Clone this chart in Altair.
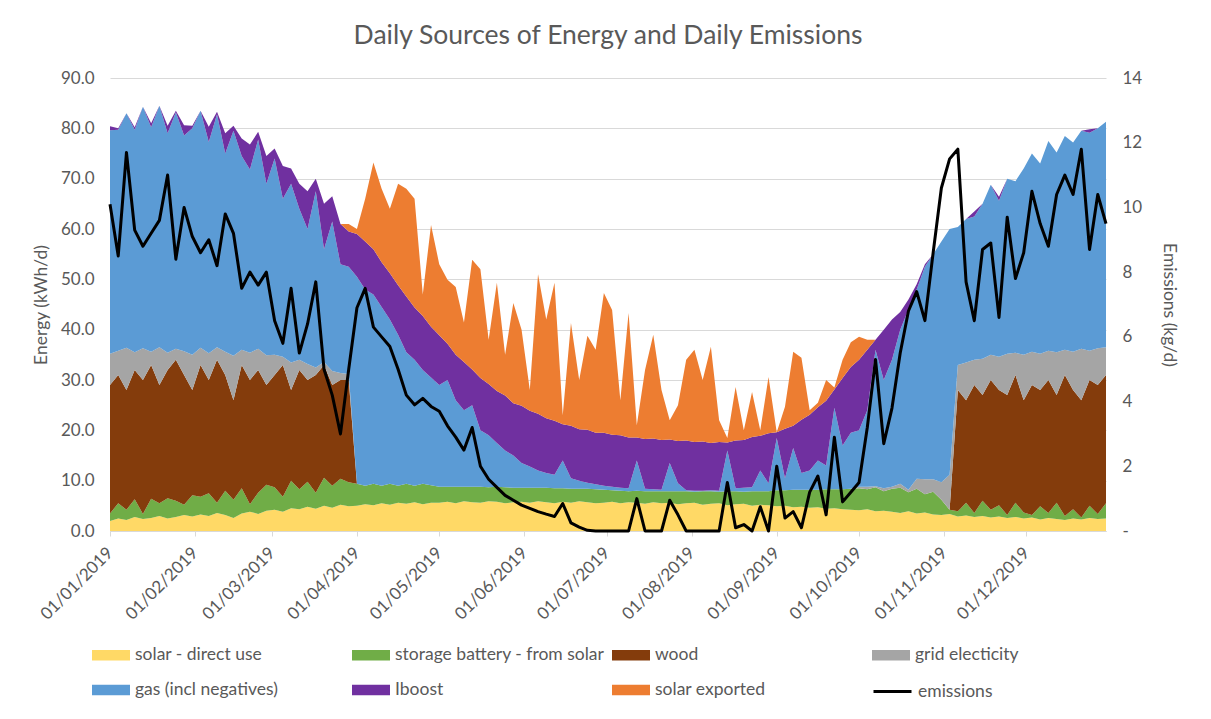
import pandas as pd
import altair as alt

# one reading every third day, 1 Jan .. 30 Dec 2019
dates = pd.date_range("2019-01-01", periods=122, freq="3D")

solar_direct = [
    2.0, 2.5, 2.2, 2.8, 2.4, 2.6, 3.0, 2.5, 2.8, 3.2, 2.9,
    3.3, 3.0, 3.6, 3.2, 2.6, 3.5, 3.8, 3.4, 4.0,
    4.2, 3.8, 4.5, 4.3, 4.8, 4.4, 5.0, 4.6, 5.2, 4.9,
    5.0, 5.3, 5.1, 5.5, 5.2, 5.6, 5.4, 5.7, 5.3, 5.6,
    5.6, 5.8, 5.5, 5.9, 5.7, 5.6, 5.9, 5.8, 5.5, 5.7,
    5.8, 5.6, 5.9, 5.7, 5.5, 5.8, 5.6, 5.9, 5.7, 5.5,
    5.6, 5.8, 5.5, 5.7, 5.6, 5.4, 5.7, 5.5, 5.6, 5.3,
    5.5, 5.6, 5.2, 5.4, 5.5, 5.1, 5.3, 5.4, 5.0, 5.2, 5.1,
    4.9, 5.0, 4.7, 4.8, 4.6, 4.7, 4.4, 4.5, 4.3, 4.2,
    4.1, 4.3, 3.9, 4.0, 3.8, 3.6, 3.9, 3.5, 3.7, 3.3,
    3.2, 3.4, 2.9, 3.1, 2.8, 3.0, 2.7, 2.9, 2.6, 2.8,
    2.5, 2.7, 2.3, 2.6, 2.4, 2.2, 2.5, 2.3, 2.6, 2.4, 2.5,
]

battery = [
    1.5, 3.0, 2.0, 3.5, 1.0, 3.8, 2.5, 4.0, 3.2, 2.0, 4.2,
    3.5, 4.5, 2.0, 4.8, 3.6, 5.0, 1.5, 4.2, 5.2,
    4.5, 3.0, 5.5, 4.0, 5.0, 3.2, 5.6, 4.4, 5.2, 4.8,
    4.4, 3.7, 4.3, 3.5, 4.2, 3.4, 4.0, 3.3, 4.1, 3.5,
    3.2, 3.0, 3.3, 2.9, 3.1, 3.2, 2.8, 3.0, 3.2, 2.9,
    2.8, 3.0, 2.7, 2.9, 3.0, 2.7, 2.8, 2.5, 2.7, 2.8, 2.6,
    2.3, 2.5, 2.2, 2.4, 2.5, 2.2, 2.4, 2.3, 2.6, 2.4,
    2.2, 2.7, 2.5, 2.3, 2.8, 2.6, 2.4, 2.9, 2.7, 2.8,
    3.2, 3.1, 3.5, 3.4, 3.6, 3.5, 3.9, 3.8, 4.0, 4.2,
    4.4, 4.0, 4.8, 3.9, 4.6, 5.0, 3.8, 4.9, 3.6, 4.5,
    3.0, 0.8, 1.0, 2.5, 0.8, 3.0, 1.5, 2.2, 0.6, 2.8,
    1.2, 0.5, 2.6, 1.0, 3.2, 0.8, 1.8, 0.4, 2.4, 1.0, 3.0,
]

wood = [
    25.5, 25.5, 23.8, 25.7, 26.6, 26.6, 23.5, 25.5, 28.0, 25.8, 20.9,
    26.2, 22.5, 28.4, 23.0, 19.8, 24.5, 24.7, 24.4, 19.8,
    22.3, 26.2, 18.0, 23.7, 20.2, 23.4, 22.4, 20.0, 19.6, 20.3,
    0, 0, 0, 0, 0, 0, 0, 0, 0, 0, 0, 0, 0, 0, 0, 0, 0, 0, 0, 0,
    0, 0, 0, 0, 0, 0, 0, 0, 0, 0, 0, 0, 0, 0, 0, 0, 0, 0, 0, 0,
    0, 0, 0, 0, 0, 0, 0, 0, 0, 0, 0, 0, 0, 0, 0, 0, 0, 0, 0, 0,
    0, 0, 0, 0, 0, 0, 0, 0, 0, 0, 0, 0, 0,
    24.1, 20.4, 25.4, 21.0, 25.8, 22.9, 23.8, 25.4, 22.3, 25.8,
    23.1, 26.4, 21.4, 28.0, 23.7, 23.3, 25.0, 25.6, 25.5,
]

grid = [
    6.2, 4.8, 8.4, 3.5, 6.3, 2.6, 7.5, 3.4, 2.2, 4.7, 7.0,
    3.4, 5.3, 2.5, 4.6, 8.8, 3.0, 5.4, 4.2, 5.9,
    4.0, 1.6, 5.5, 2.0, 3.2, 1.5, 0.6, 2.8, 1.4, 1.2,
    0, 0, 0, 0, 0, 0, 0, 0, 0, 0, 0, 0, 0, 0, 0, 0, 0, 0, 0, 0,
    0, 0, 0, 0, 0, 0, 0, 0, 0, 0, 0, 0, 0, 0, 0, 0, 0, 0, 0, 0,
    0, 0, 0, 0, 0, 0, 0, 0, 0, 0, 0, 0, 0, 0, 0, 0, 0, 0, 0, 0, 0,
    0.3, 0.5, 0.2, 0.6, 0.4, 0.8, 0.5, 2.0, 3.0, 2.5, 3.5, 7.0,
    5.0, 7.5, 5.0, 7.2, 5.0, 6.6, 8.2, 4.4, 9.0, 6.6,
    7.2, 5.8, 8.5, 5.0, 7.6, 10.2, 5.8, 7.3, 5.5,
]

gas = [
    44.4, 43.9, 46.6, 44.2, 48.0, 44.6, 48.0, 43.6, 47.0, 42.9, 45.0,
    47.1, 42.0, 46.3, 39.4, 44.7, 38.5, 36.4, 41.6, 34.1,
    39.0, 31.4, 35.5, 30.0, 26.8, 35.0, 22.4, 29.7, 21.6, 21.3,
    41.1, 39.0, 37.6, 35.5, 32.6, 30.0, 26.1, 25.0, 22.6, 21.4,
    20.2, 21.2, 17.2, 15.2, 16.2, 11.2, 10.3, 8.7, 7.3, 6.4,
    4.9, 4.2, 3.4, 2.9, 2.7, 5.5, 2.1, 1.6, 1.2, 1.0,
    0.8, 0.7, 0.6, 0.6, 6.0, 0.5, 0.4, 0.3, 5.6, 1.6,
    0.2, 0.2, 0.1, 0.2, 0.2, 8.1, 0.6, 0.8, 0.8, 4.1,
    1.6, 10.4, 2.4, 8.3, 3.3, 3.8, 5.8, 4.7, 16.2, 8.7, 11.1,
    11.2, 15.2, 27.1, 21.5, 25.2, 30.6, 35.8, 37.6, 42.2, 44.7,
    47.8, 48.8, 27.4, 28.5, 28.5, 30.8, 33.8, 31.0, 34.8, 34.1,
    37.0, 39.4, 37.8, 41.7, 39.7, 42.5, 41.6, 43.3, 43.3, 43.7, 44.8,
]

iboost = [
    0.8, 0.3, 0, 0.5, 0, 0.8, 0, 1.5, 0.3, 2.0, 0.5,
    0, 3.0, 0.5, 4.0, 1.0, 3.5, 5.0, 1.5, 5.5,
    2.0, 6.5, 3.0, 5.0, 7.5, 2.5, 9.0, 5.0, 8.0, 7.0,
    8.5, 9.5, 9.0, 8.9, 9.2, 9.8, 11.1, 10.4, 10.7, 10.1,
    9.9, 7.2, 9.0, 9.6, 7.1, 10.4, 10.2, 10.3, 10.9, 10.4,
    11.4, 11.1, 11.3, 10.9, 10.7, 7.2, 10.4, 10.2, 10.5, 10.2,
    10.5, 10.3, 10.4, 10.1, 4.6, 9.9, 10.1, 9.9, 4.7, 8.4,
    9.9, 9.7, 9.8, 9.4, 9.7, 1.6, 9.5, 9.5, 10.0, 6.9,
    9.9, 1.1, 9.8, 4.4, 10.6, 11.1, 10.6, 12.9, 3.6, 13.4, 13.1,
    14.0, 12.0, 2.0, 10.0, 8.0, 3.5, 2.0, 1.0, 0.5, 0,
    0, 0, 0, 0, 1.0, 0, 0, 0.8, 0, 0,
    0, 0, 0, 0, 0, 0, 0, 0, 0.7, 0, 0,
]

exported = [
    0, 0, 0, 0, 0, 0, 0, 0, 0, 0, 0, 0, 0, 0, 0,
    0, 0, 0, 0, 0, 0, 0, 0, 0, 0, 0, 0, 0, 0, 1.5,
    1.0, 8.5, 17.2, 14.6, 12.8, 20.2, 21.4, 21.6, 4.3, 20.2,
    14.1, 12.7, 13.5, 7.8, 21.8, 21.6, 8.8, 21.5, 8.1, 19.9,
    15.1, 4.1, 27.7, 19.6, 27.4, 1.8, 20.4, 9.8, 18.7, 16.5,
    27.8, 24.8, 7.0, 24.7, 2.4, 13.7, 20.6, 9.9, 3.8, 7.1,
    16.0, 18.3, 12.2, 19.1, 4.3, 0.9, 10.6, 1.9, 8.9, 1.1,
    11.2, 0, 4.4, 14.7, 12.3, 0.9, 0.9, 4.1, 0.4, 3.6,
    4.9, 4.6, 2.0,
    0, 0, 0, 0, 0, 0, 0, 0, 0, 0, 0, 0, 0, 0, 0,
    0, 0, 0, 0, 0, 0, 0, 0, 0, 0, 0, 0, 0, 0,
]

emissions = [
    10.1, 8.5, 11.7, 9.3, 8.8, 9.2, 9.6, 11.0, 8.4, 10.0, 9.1,
    8.6, 9.0, 8.2, 9.8, 9.2, 7.5, 8.0, 7.6, 8.0,
    6.5, 5.8, 7.5, 5.5, 6.4, 7.7, 5.0, 4.2, 3.0, 5.0,
    6.9, 7.5, 6.3, 6.0, 5.7, 5.0, 4.2, 3.9, 4.1, 3.85,
    3.7, 3.25, 2.9, 2.5, 3.2, 2.0, 1.6, 1.35, 1.1, 0.95,
    0.8, 0.7, 0.6, 0.52, 0.45, 0.85, 0.25, 0.12, 0.02, 0,
    0, 0, 0, 0, 1.0, 0, 0, 0, 0.95, 0.5,
    0, 0, 0, 0, 0, 1.5, 0.1, 0.2, 0, 0.75,
    0, 2.0, 0.4, 0.6, 0.1, 1.2, 1.7, 0.5, 2.9, 0.9,
    1.2, 1.5, 3.2, 5.3, 2.7, 3.8, 5.5, 6.8, 7.4, 6.5,
    8.6, 10.6, 11.5, 11.8, 7.7, 6.5, 8.7, 8.9, 6.6, 9.7,
    7.8, 8.6, 10.5, 9.5, 8.8, 10.4, 11.0, 10.4, 11.8, 8.7,
    10.4, 9.5,
]

sources = ["solar - direct use", "storage battery - from solar", "wood",
           "grid electicity", "gas (incl negatives)", "Iboost", "solar exported"]
colours = ["#FFD966", "#70AD47", "#843C0C", "#A5A5A5", "#5B9BD5", "#7030A0", "#ED7D31"]

rows = []
for rank, (name, values) in enumerate(zip(sources, [solar_direct, battery, wood, grid,
                                                     gas, iboost, exported])):
    for d, v in zip(dates, values):
        rows.append({"date": d, "source": name, "kwh": v, "rank": rank})
energy = pd.DataFrame(rows)
emis = pd.DataFrame({"date": dates, "kg": emissions, "series": "emissions"})

FONT = "Lato"
GREY = "#595959"
BOX = "M-1,-0.27H1V0.27H-1Z"
LEG_X, LEG_Y, COL_PITCH = -18, 558, 260

x_scale = alt.Scale(domain=[alt.DateTime(year=2019, month=1, date=1),
                            alt.DateTime(year=2019, month=12, date=30)])
x_axis = alt.Axis(
    values=[alt.DateTime(year=2019, month=m, date=1) for m in range(1, 13)],
    format="%d/%m/%Y", labelAngle=315, labelAlign="right", labelBaseline="middle",
    labelFont=FONT, labelFontSize=17, labelColor=GREY, labelPadding=14,
    labelOverlap=False, labelBound=False,
    grid=False, domainColor="#D9D9D9", tickColor="#D9D9D9", tickSize=5,
)

areas = alt.Chart(energy).mark_area(interpolate="linear").encode(
    x=alt.X("date:T", scale=x_scale, axis=x_axis, title=None),
    y=alt.Y("kwh:Q", stack="zero",
            scale=alt.Scale(domain=[0, 90], nice=False),
            axis=alt.Axis(values=list(range(0, 91, 10)), format=".1f",
                          grid=True, gridColor="#D9D9D9", domain=False, ticks=False,
                          labelFont=FONT, labelFontSize=17, labelColor=GREY,
                          labelPadding=16, titleFont=FONT, titleFontSize=17.5,
                          titleFontWeight="normal", titleColor=GREY, titlePadding=10),
            title="Energy (kWh/d)"),
    color=alt.Color("source:N",
                    scale=alt.Scale(domain=sources, range=colours),
                    legend=alt.Legend(
                        orient="none", legendX=LEG_X, legendY=LEG_Y, columns=4,
                        direction="horizontal", gridAlign="all", title=None, padding=0,
                        labelFont=FONT, labelFontSize=17.5, labelColor=GREY, labelLimit=400,
                        symbolType=BOX, symbolSize=1444, symbolStrokeWidth=0,
                        labelOffset=5, columnPadding=7, rowPadding=7,
                    )),
    order=alt.Order("rank:Q"),
)

line = alt.Chart(emis).mark_line(strokeWidth=3, strokeJoin="round").encode(
    x=alt.X("date:T", scale=x_scale, axis=x_axis, title=None),
    y=alt.Y("kg:Q", scale=alt.Scale(domain=[0, 14], nice=False),
            axis=alt.Axis(orient="right", values=list(range(0, 15, 2)),
                          labelExpr="datum.value == 0 ? '-' : datum.label",
                          grid=False, domain=False, ticks=False,
                          labelFont=FONT, labelFontSize=17, labelColor=GREY,
                          labelPadding=16, titleFont=FONT, titleFontSize=17.5,
                          titleFontWeight="normal", titleColor=GREY, titlePadding=18),
            title="Emissions (kg/d)"),
    stroke=alt.Stroke("series:N", scale=alt.Scale(domain=["emissions"], range=["#000000"]),
                      legend=alt.Legend(
                          orient="none", legendX=LEG_X + 3 * COL_PITCH,
                          legendY=LEG_Y + 35, title=None, padding=0,
                          labelFont=FONT, labelFontSize=17.5, labelColor=GREY,
                          symbolType="stroke", symbolSize=1444, symbolStrokeWidth=3,
                          labelOffset=5)),
)

chart = alt.layer(areas, line).resolve_scale(y="independent").properties(
    width=996, height=453,
    title=alt.TitleParams("Daily Sources of Energy and Daily Emissions", font=FONT,
                          fontSize=26.5, fontWeight="normal", color=GREY, offset=20),
    autosize=alt.AutoSizeParams(type="none"),
    padding={"left": 102, "top": 70, "right": 89, "bottom": 175},
    background="white",
).configure_view(strokeWidth=0)

chart.save("out.html", embed_options={"renderer": "svg", "actions": False})
